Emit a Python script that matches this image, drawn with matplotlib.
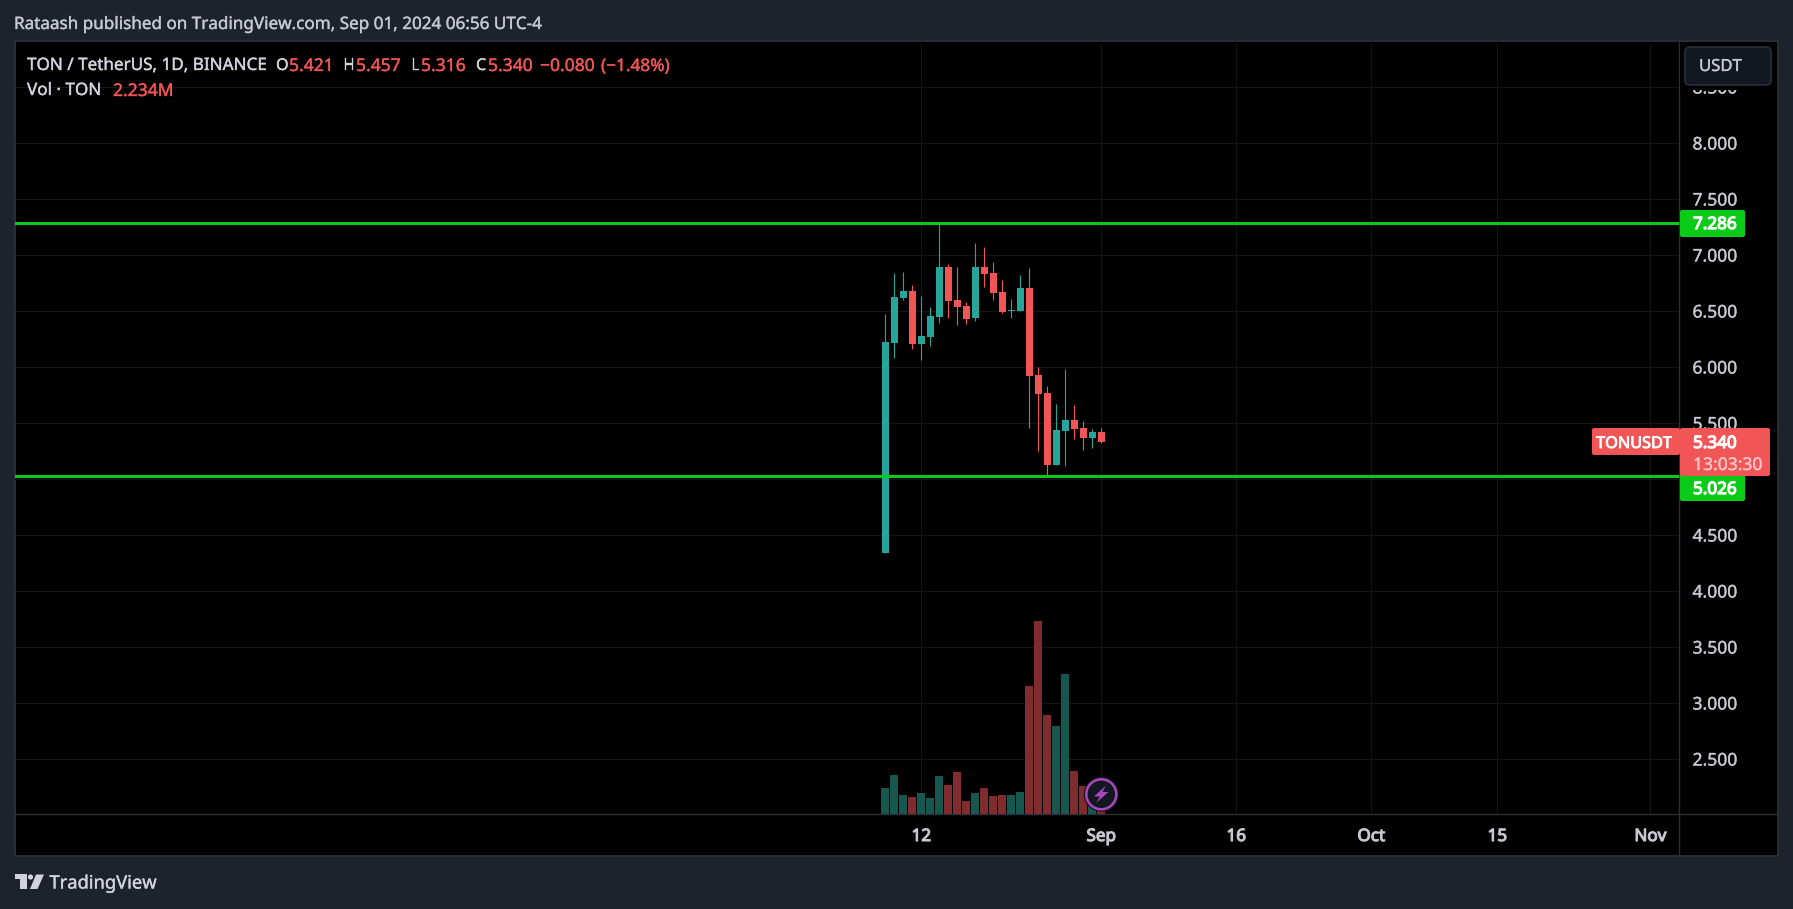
import matplotlib
matplotlib.use("Agg")
import matplotlib.pyplot as plt
import matplotlib.patheffects as pe
from matplotlib.patches import FancyBboxPatch, Rectangle, Polygon, Circle

plt.rcParams['font.family'] = ['Noto Sans', 'DejaVu Sans']

# ---- data -----
opens  = [4.338, 6.210, 6.611, 6.674, 6.201, 6.263, 6.442, 6.888, 6.593, 6.540, 6.433, 6.888, 6.834,
          6.665, 6.495, 6.495, 6.701, 5.924, 5.763, 5.120, 5.424, 5.522, 5.451, 5.362, 5.415]
highs  = [6.469, 6.834, 6.843, 6.727, 6.629, 6.531, 7.272, 6.915, 6.888, 6.576, 7.102, 7.067, 6.933,
          6.772, 6.602, 6.817, 6.879, 5.995, 5.826, 5.665, 5.978, 5.656, 5.513, 5.442, 5.451]
lows   = [4.338, 6.076, 6.593, 6.156, 6.058, 6.183, 6.388, 6.433, 6.370, 6.379, 6.406, 6.710, 6.593,
          6.477, 6.433, 6.495, 5.451, 5.246, 5.031, 5.120, 5.112, 5.353, 5.254, 5.272, 5.317]
closes = [6.219, 6.620, 6.674, 6.201, 6.272, 6.451, 6.888, 6.584, 6.531, 6.424, 6.888, 6.826, 6.656,
          6.486, 6.504, 6.701, 5.915, 5.754, 5.120, 5.433, 5.522, 5.442, 5.362, 5.415, 5.326]
volumes = [21.8, 32.7, 15.9, 14.2, 17.6, 13.4, 31.8, 24.3, 35.2, 10.9, 17.6, 21.8, 15.1,
           15.9, 15.9, 18.4, 107.2, 161.7, 82.9, 73.7, 117.3, 36.0, 23.5, 11.2, 2.234]
days = list(range(len(opens)))

price_ticks = [2.5, 3.0, 3.5, 4.0, 4.5, 5.0, 5.5, 6.0, 6.5, 7.0, 7.5, 8.0, 8.5]
time_ticks = [4, 24, 39, 54, 68, 85]
time_labels = ["12", "Sep", "16", "Oct", "15", "Nov"]
levels = [7.279, 5.019]
level_labels = ["7.286", "5.026"]

TITLE = "Rataash published on TradingView.com, Sep 01, 2024 06:56 UTC-4"
SYMBOL = "TON / TetherUS, 1D, BINANCE"

# ---- styles ----
W, H = 1793, 909
BG = "#1E222D"; BORDER = "#2A2E39"; GRID = "#151515"
TEAL = "#26A69A"; RED = "#F25555"; TEAL_D = "#16574F"; RED_D = "#802C2E"
GREEN = "#0ACB17"; TXT = "#D1D4DC"; AXTXT = "#C5C8D0"
PL, PR, PT, PB = 15, 1679, 41, 814        # pane, pixels


def x_at(px):
    return (px - 885.3) / 9.0


def p_at(py):
    return 8 - (py - 142.5) / 112.0


fig = plt.figure(figsize=(W / 100, H / 100), dpi=100, facecolor=BG)

# chrome layer beneath
back = fig.add_axes([0, 0, 1, 1], zorder=0)
back.set_xlim(0, W); back.set_ylim(H, 0); back.axis("off")
back.add_patch(Rectangle((14.5, 41), 1763.5, 814.5, fc="black", ec=BORDER, lw=1.4))
back.plot([PR, PR], [41, 855], color=BORDER, lw=1.0)
back.plot([15, 1778], [PB, PB], color=BORDER, lw=1.0)

rect = [PL / W, 1 - PB / H, (PR - PL) / W, (PB - PT) / H]

# grid, beneath the volume bars
ag = fig.add_axes(rect, zorder=0.5)
ag.patch.set_alpha(0)
ag.set_xlim(x_at(PL), x_at(PR))
ag.set_ylim(p_at(PB), p_at(PT))
ag.axis("off")
for p in price_ticks:
    ag.axhline(p, color=GRID, lw=0.8)
for t in time_ticks:
    ag.axvline(t, color=GRID, lw=0.8)

# volume
av = fig.add_axes(rect, zorder=1)
av.patch.set_alpha(0)
av.set_xlim(x_at(PL), x_at(PR))
av.set_ylim(0, (PB - PT) * 0.8375)
av.axis("off")
vcols = [TEAL_D if c >= o else RED_D for o, c in zip(opens, closes)]
av.bar(days, volumes, width=8 / 9, color=vcols, linewidth=0, zorder=2)

# price
ax = fig.add_axes(rect, zorder=2)
ax.patch.set_alpha(0)
ax.set_xlim(x_at(PL), x_at(PR))
ax.set_ylim(p_at(PB), p_at(PT))
ax.axis("off")
ccols = [TEAL if c >= o else RED for o, c in zip(opens, closes)]
ax.vlines(days, lows, highs, colors=ccols, lw=0.8, zorder=3)
ax.bar(days, [max(abs(c - o), 0.009) for o, c in zip(opens, closes)],
       bottom=[min(o, c) for o, c in zip(opens, closes)],
       width=7 / 9, color=ccols, linewidth=0, zorder=4)
for lv in levels:
    ax.axhline(lv, color=GREEN, lw=2.2, zorder=5)

# chrome layer above
top = fig.add_axes([0, 0, 1, 1], zorder=5)
top.set_xlim(0, W); top.set_ylim(H, 0); top.axis("off"); top.patch.set_alpha(0)


def T(x, y, s, color=TXT, size=11, ha="left", heavy=0.25, **kw):
    t = top.text(x, y + 2, s, color=color, fontsize=size, ha=ha, va="center", **kw)
    t.set_path_effects([pe.withStroke(linewidth=heavy, foreground=color)])
    return t


T(14, 23, TITLE, color="#C5C8D0", size=12.3)
T(27, 64, SYMBOL, size=12.3)
for x, s, c, sz in [(276, "O", TXT, 11.6), (289, "5.421", RED, 12.6), (343, "H", TXT, 11.6), (356, "5.457", RED, 12.6),
                    (411, "L", TXT, 11.6), (421, "5.316", RED, 12.6), (476, "C", TXT, 11.6), (488, "5.340", RED, 12.6),
                    (540, "\u22120.080", RED, 12.6), (601, "(\u22121.48%)", RED, 12.4)]:
    T(x, 64, s, color=c, size=sz)
T(27, 89, "Vol \u00b7 TON", size=12.3)
T(113, 89, "2.234M", color=RED, size=12.6)

# price axis labels
for p in price_ticks:
    py = 142.5 + (8 - p) * 112
    T(1715, py, f"{p:.3f}", color=AXTXT, size=12.6, ha="center")
# USDT button, masking the clipped label
top.add_patch(Rectangle((1680, 42), 97, 48, fc="black", ec="none", zorder=3))
top.add_patch(FancyBboxPatch((1685, 47), 86, 38, boxstyle="round,pad=0,rounding_size=5",
                             fc="#131722", ec=BORDER, lw=1.2, zorder=4, mutation_aspect=1))
T(1699, 65, "USDT", color=AXTXT, size=12, zorder=5)

# time axis labels
for t, s in zip(time_ticks, time_labels):
    T(885.3 + 9 * t, 835, s, color=AXTXT, size=12.3, ha="center", heavy=0.8)


def box(x0, y0, x1, y1, color, z=6):
    top.add_patch(FancyBboxPatch((x0 + 2, y0 + 2), x1 - x0 - 4, y1 - y0 - 4,
                                 boxstyle="round,pad=2,rounding_size=2",
                                 fc=color, ec="none", zorder=z))


box(1680, 210, 1745, 237, GREEN)
T(1693, 223, level_labels[0], color="white", size=12.3, zorder=7, heavy=0.9)
box(1680, 474, 1745, 501, GREEN)
T(1693, 488, level_labels[1], color="white", size=12.3, zorder=7, heavy=0.9)
box(1680, 428, 1770, 476, RED, z=8)
box(1592, 428, 1680, 455, RED, z=8)
T(1693, 442, "5.340", color="white", size=12.3, zorder=9, heavy=0.9)
T(1693, 463, "13:03:30", color="#FBC4C4", size=12.6, zorder=9)
T(1634, 442, "TONUSDT", color="white", size=11.7, ha="center", zorder=9, heavy=0.6)

# lightning icon
top.add_patch(Circle((1101.3, 794.3), 17.5, fc="#131722", ec="none", zorder=6))
top.add_patch(Circle((1101.3, 794.3), 15, fc="#131722", ec="#AB47BC", lw=1.8, zorder=7))
top.add_patch(Polygon([(1106, 785.5), (1094, 796.5), (1100, 796.5), (1096, 803), (1108.5, 792),
                       (1102.5, 792)], closed=True, fc="#AB47BC", ec="none", zorder=8))

# TradingView logo
LOGO = "#D1D4DC"
top.add_patch(Polygon([(15, 874), (27, 874), (27, 889), (20, 889), (20, 879), (15, 879)], fc=LOGO, ec="none"))
top.add_patch(Circle((30.5, 877), 2.6, fc=LOGO, ec="none"))
top.add_patch(Polygon([(36, 874.5), (44, 874.5), (37.5, 889), (30, 889)], fc=LOGO, ec="none"))
T(49.5, 881.5, "TradingView", color=LOGO, size=13.2)

fig.savefig("out.png", dpi=100, facecolor=BG)
